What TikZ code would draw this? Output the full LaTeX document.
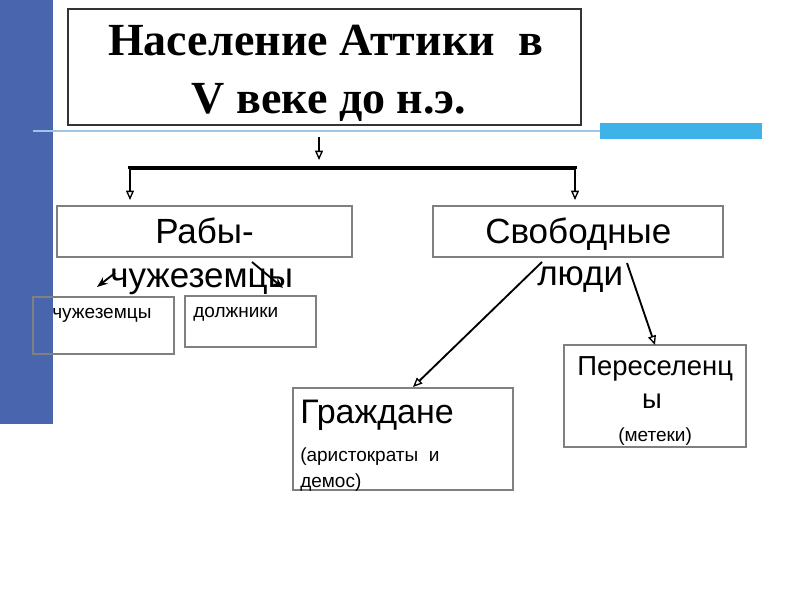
\documentclass[tikz,border=0pt]{standalone}
\usepackage{fontspec}
\setmainfont{Liberation Sans}
\newfontfamily\titlefont{Liberation Serif}
\usetikzlibrary{arrows.meta,fit}
\definecolor{sidebar}{RGB}{72,101,173}
\definecolor{thinblue}{RGB}{160,196,232}
\definecolor{brightblue}{RGB}{64,178,234}
\definecolor{boxgray}{RGB}{128,128,128}
\tikzset{
  box/.style={draw=boxgray, line width=1pt, inner sep=0pt},
  titlebox/.style={draw=black!80, line width=1.2pt, inner sep=0pt},
  ttl/.style={font=\titlefont\bfseries\fontsize{34.5}{40}\selectfont, inner sep=0pt, anchor=base},
  big/.style={font=\fontsize{26.25}{30}\selectfont, inner sep=0pt, anchor=base west},
  small/.style={font=\fontsize{14.25}{17}\selectfont, inner sep=0pt, anchor=base west},
  openarrow/.style={line width=1.4pt, -{Triangle[open, length=7pt, width=6pt, line width=1pt]}},
  filledarrow/.style={line width=1.4pt, -{Stealth[length=8pt, width=6pt]}},
  bracket/.style={line width=2.4pt}
}
\begin{document}
\begin{tikzpicture}[x=0.75pt,y=-0.75pt]
\useasboundingbox (0,0) rectangle (800,600);
\fill[white] (0,0) rectangle (800,600);
% decorations
\fill[sidebar] (0,0) rectangle (53,424);
\fill[brightblue] (600,123) rectangle (762,139);
\draw[thinblue, line width=1.5pt] (33,131) -- (600,131);
% title
\node[titlebox, fit={(68,9) (581,125)}] (title) {};
\node[ttl] (t1) at (325.5,55) {Население Аттики\ \ в};
\node[ttl] (t2) at (329,113) {V веке до н.э.};
% bracket
\coordinate (a0) at (319,137);
\coordinate (a1) at (319,160);
\coordinate (bl) at (130,168);
\coordinate (br) at (575,168);
\coordinate (bl2) at (130,200);
\coordinate (br2) at (575,200);
\draw[openarrow] (a0) -- (a1);
\draw[bracket] ([yshift=-0.9pt]bl2 |- bl) -- (bl) -- (br) -- ([yshift=-0.9pt]br2 |- br);
\draw[openarrow] (bl) -- (bl2);
\draw[openarrow] (br) -- (br2);
% boxes
\node[box, fit={(57,206) (352,257)}] (rab) {};
\node[box, fit={(433,206) (723,257)}] (svob) {};
\node[box, fit={(33,297) (174,354)}] (chuzh) {};
\node[box, fit={(185,296) (316,347)}] (dolzh) {};
\node[box, fit={(293,388) (513,490)}] (grazh) {};
\node[box, fit={(564,345) (746,447)}] (peres) {};
% texts
\node[big] (rab1) at (155,243) {Рабы-};
\node[big] (rab2) at (110,287) {чужеземцы};
\node[big] (svob1) at (485,243) {Свободные};
\node[big] (svob2) at (537,285) {люди};
\node[small] (chuzht) at (52,318) {чужеземцы};
\node[small] (dolzht) at (193,317) {должники};
\node[big, font=\fontsize{25.5}{30}\selectfont] (gr1) at (300,423) {Граждане};
\node[small] (gr2) at (300,461) {(аристократы\ \ и};
\node[small] (gr3) at (300,487) {демос)};
\node[big, font=\fontsize{20.6}{24}\selectfont] (pe1) at (577,375) {Переселенц};
\node[big, font=\fontsize{20.6}{24}\selectfont, anchor=base] (pe2) at (652,408) {ы};
\node[small] (pe3) at (618,441) {(метеки)};
% arrows
\coordinate (r1s) at (115,273);
\coordinate (r1e) at (97,287);
\coordinate (r2s) at (252,262);
\coordinate (r2e) at (283,288);
\coordinate (s1s) at (542,262);
\coordinate (s1e) at (413,387);
\coordinate (s2s) at (627,263);
\coordinate (s2e) at (655,345);
\draw[filledarrow] (r1s) -- (r1e);
\draw[filledarrow] (r2s) -- (r2e);
\draw[openarrow] (s1s) -- (s1e);
\draw[openarrow] (s2s) -- (s2e);
\end{tikzpicture}
\end{document}
